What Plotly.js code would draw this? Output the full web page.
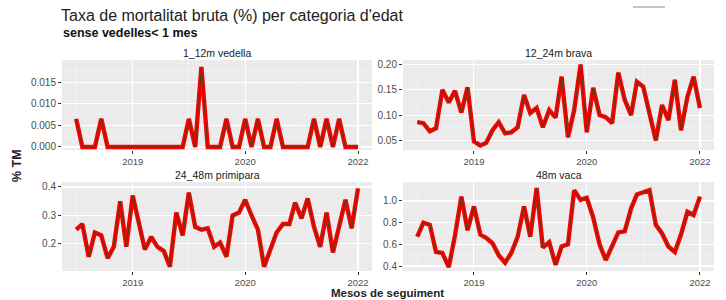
<!DOCTYPE html>
<html>
<head>
<meta charset="utf-8">
<script src="https://cdn.plot.ly/plotly-3.0.1.min.js"></script>
<style>html,body{margin:0;padding:0;background:#fff}#chart{width:726px;height:300px}</style>
</head>
<body>
<div id="chart"></div>
<script>
// ---- data ----
const months = ["2018-04-01","2018-05-01","2018-06-01","2018-07-01","2018-08-01","2018-09-01","2018-10-01","2018-11-01","2018-12-01",
"2019-01-01","2019-02-01","2019-03-01","2019-04-01","2019-05-01","2019-06-01","2019-07-01","2019-08-01","2019-09-01","2019-10-01","2019-11-01","2019-12-01",
"2020-01-01","2020-02-01","2020-03-01","2020-04-01","2020-05-01","2020-06-01","2020-07-01","2020-08-01","2020-09-01","2020-10-01","2020-11-01","2020-12-01",
"2021-01-01","2021-02-01","2021-03-01","2021-04-01","2021-05-01","2021-06-01","2021-07-01","2021-08-01","2021-09-01","2021-10-01","2021-11-01","2021-12-01",
"2022-01-01"];
const categories = ["1_12m vedella","12_24m brava","24_48m primipara","48m vaca"];
const tm_1_12m = [0.0065,0,0,0,0.0065,0,0,0,0,0,0,0,0,0,0,0,0,0,0.0065,0,0.0185,0,0,0,0.0065,0,0,0.0065,0,0.0065,0,0,0.0065,0,0,0,0,0,0.0065,0,0.0065,0,0.0065,0,0,0];
const tm_12_24m = [0.086,0.084,0.068,0.074,0.150,0.125,0.148,0.105,0.155,0.048,0.040,0.045,0.070,0.086,0.064,0.066,0.076,0.140,0.104,0.114,0.076,0.110,0.095,0.176,0.056,0.110,0.200,0.066,0.154,0.100,0.096,0.084,0.184,0.130,0.100,0.166,0.156,0.100,0.050,0.120,0.090,0.170,0.070,0.136,0.176,0.114];
const tm_24_48m = [0.25,0.27,0.155,0.24,0.23,0.15,0.19,0.35,0.19,0.37,0.27,0.18,0.225,0.19,0.175,0.12,0.31,0.23,0.38,0.26,0.25,0.255,0.19,0.205,0.155,0.30,0.31,0.355,0.30,0.25,0.12,0.18,0.24,0.27,0.27,0.345,0.29,0.36,0.26,0.19,0.31,0.17,0.26,0.355,0.255,0.395];
const tm_48m = [0.67,0.80,0.78,0.53,0.52,0.39,0.68,1.04,0.73,0.95,0.69,0.66,0.61,0.50,0.43,0.52,0.67,0.95,0.67,1.12,0.57,0.62,0.41,0.58,0.60,1.10,1.01,1.03,0.85,0.60,0.455,0.58,0.71,0.72,0.93,1.06,1.08,1.10,0.78,0.70,0.58,0.53,0.69,0.90,0.87,1.04];
const xTickVals = ["2019-01-01","2020-07-01","2022-01-01"];
const xTickText = ["2019","2020","2022"];
const xMinorVals = ["2018-04-01","2019-10-01","2021-04-01"];
const yTicks1 = [0,0.005,0.010,0.015], yText1 = ["0.000","0.005","0.010","0.015"];
const yTicks2 = [0.05,0.10,0.15,0.20], yText2 = ["0.05","0.10","0.15","0.20"];
const yTicks3 = [0.2,0.3,0.4], yText3 = ["0.2","0.3","0.4"];
const yTicks4 = [0.4,0.6,0.8,1.0], yText4 = ["0.4","0.6","0.8","1.0"];

// ---- layout helpers ----
const FONT = "Liberation Sans, Arial, sans-serif";
const W = 726, H = 300;
const px = v => v / W, py = v => 1 - v / H;
const panels = [
  {x0: 62, x1: 372, y0: 60, y1: 150},
  {x0: 403, x1: 714, y0: 60, y1: 150},
  {x0: 62, x1: 372, y0: 182, y1: 271},
  {x0: 403, x1: 714, y0: 182, y1: 271}
];
const series = [tm_1_12m, tm_12_24m, tm_24_48m, tm_48m];
const yTicks = [yTicks1, yTicks2, yTicks3, yTicks4];
const yTexts = [yText1, yText2, yText3, yText4];
const yRanges = [[-0.0007, 0.0201], [0.031, 0.209], [0.105, 0.4175], [0.354, 1.175]];
const xRange = ["2018-01-22", "2022-03-10"];

function midpoints(a){ const m=[]; for(let i=0;i<a.length-1;i++) m.push((a[i]+a[i+1])/2); m.unshift(a[0]-(a[1]-a[0])/2); m.push(a[a.length-1]+(a[1]-a[0])/2); return m; }

const traces = [];
const layout = {
  width: W, height: H,
  margin: {l:0, r:0, t:0, b:0},
  paper_bgcolor: "#ffffff",
  plot_bgcolor: "#EBEBEB",
  showlegend: false,
  font: {family: FONT, color: "#4d4d4d", size: 10},
  title: {text: "Taxa de mortalitat bruta (%) per categoria d'edat", x: px(61), xanchor: "left", xref: "paper", y: py(15.5), yanchor: "middle", yref: "container",
          font: {family: FONT, size: 16, color: "#222222"}},
  annotations: [],
  shapes: []
};

series.forEach((vals, k) => {
  const n = k + 1;
  const xa = n === 1 ? "x" : "x" + n, ya = n === 1 ? "y" : "y" + n;
  traces.push({x: months, y: vals, xaxis: xa, yaxis: ya, type: "scatter", mode: "lines",
               line: {color: "#ff0000", width: 4.4}, hoverinfo: "skip"});
  traces.push({x: months, y: vals, xaxis: xa, yaxis: ya, type: "scatter", mode: "lines",
               line: {color: "#5a3a18", width: 1.0}, hoverinfo: "skip"});
  const p = panels[k];
  layout["xaxis" + (n === 1 ? "" : n)] = {
    domain: [px(p.x0), px(p.x1)], anchor: ya, type: "date", range: xRange,
    tickmode: "array", tickvals: xTickVals, ticktext: xTickText,
    ticks: "outside", ticklen: 2.5, tickcolor: "#333333", tickwidth: 1,
    showgrid: true, gridcolor: "#ffffff", gridwidth: 1.1, zeroline: false, showline: false,
    minor: {tickmode: "array", tickvals: xMinorVals, showgrid: true, gridcolor: "#f5f5f5", gridwidth: 0.6, ticks: ""},
    tickfont: {family: FONT, size: 9.5, color: "#4d4d4d"}, fixedrange: true
  };
  layout["yaxis" + (n === 1 ? "" : n)] = {
    domain: [py(p.y1), py(p.y0)], anchor: xa, range: yRanges[k],
    tickmode: "array", tickvals: yTicks[k], ticktext: yTexts[k],
    ticks: "outside", ticklen: 3, tickcolor: "#333333", tickwidth: 1,
    showgrid: true, gridcolor: "#ffffff", gridwidth: 1.1, zeroline: false, showline: false,
    minor: {tickmode: "array", tickvals: midpoints(yTicks[k]), showgrid: true, gridcolor: "#f5f5f5", gridwidth: 0.6, ticks: ""},
    tickfont: {family: FONT, size: 10, color: "#4d4d4d"}, fixedrange: true
  };
  layout.annotations.push({text: categories[k], xref: "paper", yref: "paper",
    x: px((p.x0 + p.x1) / 2), y: py(p.y0 - 7), xanchor: "center", yanchor: "middle",
    showarrow: false, font: {family: FONT, size: 10.5, color: "#1a1a1a"}});
});

layout.annotations.push({text: "<b>sense vedelles< 1 mes</b>", xref: "paper", yref: "paper",
  x: px(61), y: py(33), xanchor: "left", yanchor: "middle", showarrow: false,
  font: {family: FONT, size: 12.5, color: "#111111"}});
layout.annotations.push({text: "<b>Mesos de seguiment</b>", xref: "paper", yref: "paper",
  x: px(388), y: py(293), xanchor: "center", yanchor: "middle", showarrow: false, borderpad: 0,
  font: {family: FONT, size: 11.5, color: "#222222"}});
layout.annotations.push({text: "<b>% TM</b>", xref: "paper", yref: "paper",
  x: px(17), y: py(166), xanchor: "center", yanchor: "middle", textangle: -90, showarrow: false,
  font: {family: FONT, size: 12.5, color: "#222222"}});
layout.shapes.push({type: "line", xref: "paper", yref: "paper", x0: px(633), x1: px(665), y0: py(7), y1: py(7),
  line: {color: "#b0b0b0", width: 1.5}});

Plotly.newPlot("chart", traces, layout, {staticPlot: true, displayModeBar: false});
</script>
</body>
</html>
